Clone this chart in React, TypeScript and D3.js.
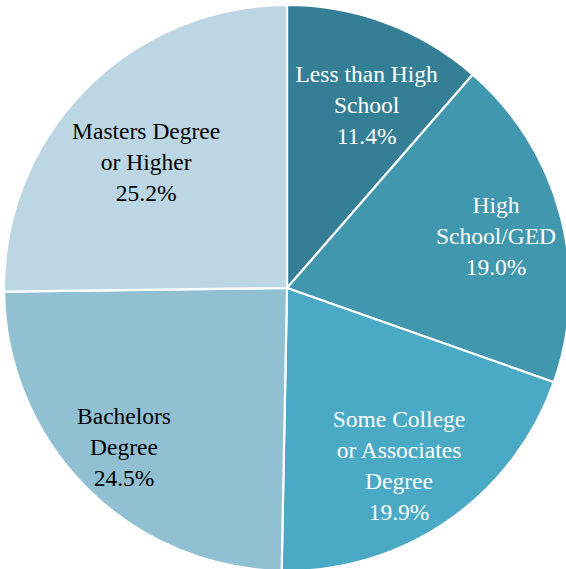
import React, { useRef, useEffect } from 'react';
import * as d3 from 'd3';

const categories = [
  'Less than High\nSchool',
  'High\nSchool/GED',
  'Some College\nor Associates\nDegree',
  'Bachelors\nDegree',
  'Masters Degree\nor Higher',
];
const shares = [11.4, 19.0, 19.9, 24.5, 25.2];
const colors = ['#357f96', '#4097ae', '#4aaac5', '#92c0d3', '#bcd7e3'];
const textColors = ['#ffffff', '#ffffff', '#ffffff', '#000000', '#000000'];
// label placement: fraction of radius, and angle nudge (degrees) from the slice middle
const labelRadius = [0.705, 0.761, 0.74, 0.805, 0.668];
const labelNudge = [3.0, 0.8, 2.4, 0.5, -2.8];

const width = 566;
const height = 569;

const App: React.FC = () => {
  const svgRef = useRef<SVGSVGElement | null>(null);

  useEffect(() => {
    if (!svgRef.current) return;
    const svg = d3.select(svgRef.current);
    svg.selectAll('*').remove();

    const cx = 287;
    const cy = 288;
    const r = 283;

    const pie = d3.pie<number>().sort(null).value(d => d);
    const arcs = pie(shares);
    const arc = d3.arc<d3.PieArcDatum<number>>().innerRadius(0).outerRadius(r);

    const g = svg.append('g').attr('transform', `translate(${cx},${cy})`);

    g.selectAll('path')
      .data(arcs)
      .enter()
      .append('path')
      .attr('d', arc)
      .attr('fill', (d, i) => colors[i])
      .attr('stroke', '#ffffff')
      .attr('stroke-width', 2.2)
      .attr('stroke-linejoin', 'round');

    const lineH = 31;
    arcs.forEach((d, i) => {
      const a = (d.startAngle + d.endAngle) / 2 + (labelNudge[i] * Math.PI) / 180;
      const lr = r * labelRadius[i];
      const x = lr * Math.sin(a);
      const y = -lr * Math.cos(a);
      const lines = [...categories[i].split('\n'), `${shares[i].toFixed(1)}%`];
      const top = y - ((lines.length - 1) * lineH) / 2;
      const t = g.append('text')
        .attr('text-anchor', 'middle')
        .style('font-family', "'Liberation Serif', 'DejaVu Serif', serif")
        .style('font-size', '23.5px')
        .attr('fill', textColors[i]);
      lines.forEach((ln, j) => {
        t.append('tspan')
          .attr('x', x)
          .attr('y', top + j * lineH)
          .attr('dy', '0.35em')
          .text(ln);
      });
    });
  }, []);

  return (
    <svg
      ref={svgRef}
      width={width}
      height={height}
      style={{ position: 'absolute', left: 0, top: 0, background: '#ffffff' }}
    />
  );
};

export default App;
